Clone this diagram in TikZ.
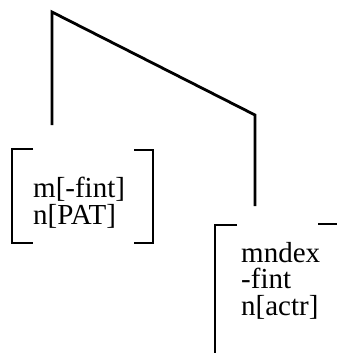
\documentclass[tikz,border=0pt]{standalone}
\usepackage{fontspec}
\setmainfont{Liberation Serif}
\begin{document}
\begin{tikzpicture}[x=1pt,y=-1pt]
\tikzset{
  branch/.style={line width=2.8pt,line join=miter},
  bracket/.style={line width=2.3pt},
  featbox/.style={inner sep=0pt,align=left,font=\fontsize{29}{26.5}\selectfont}
}
\useasboundingbox (0,0) rectangle (337,353);
\coordinate (n_top) at (52,12);
\coordinate (n_bend) at (255,115);
\coordinate (n_l_end) at (52,125);
\coordinate (n_r_end) at (255,206);
\node[featbox,anchor=north west] (n_l_feat) at (33,177) {m[-fint]\\n[PAT]};
\node[featbox,anchor=north west] (n_r_feat) at (241,242) {mndex\\-fint\\n[actr]};
\draw[branch] (n_l_end) -- (n_top) -- (n_bend) -- (n_r_end);
\draw[bracket] (33,149) -- (12,149) -- (12,243) -- (33,243);
\draw[bracket] (134,150) -- (153,150) -- (153,243) -- (134,243);
\draw[bracket] (237,225) -- (215,225) -- (215,353);
\draw[bracket] (318,224) -- (337,224);
\end{tikzpicture}
\end{document}
